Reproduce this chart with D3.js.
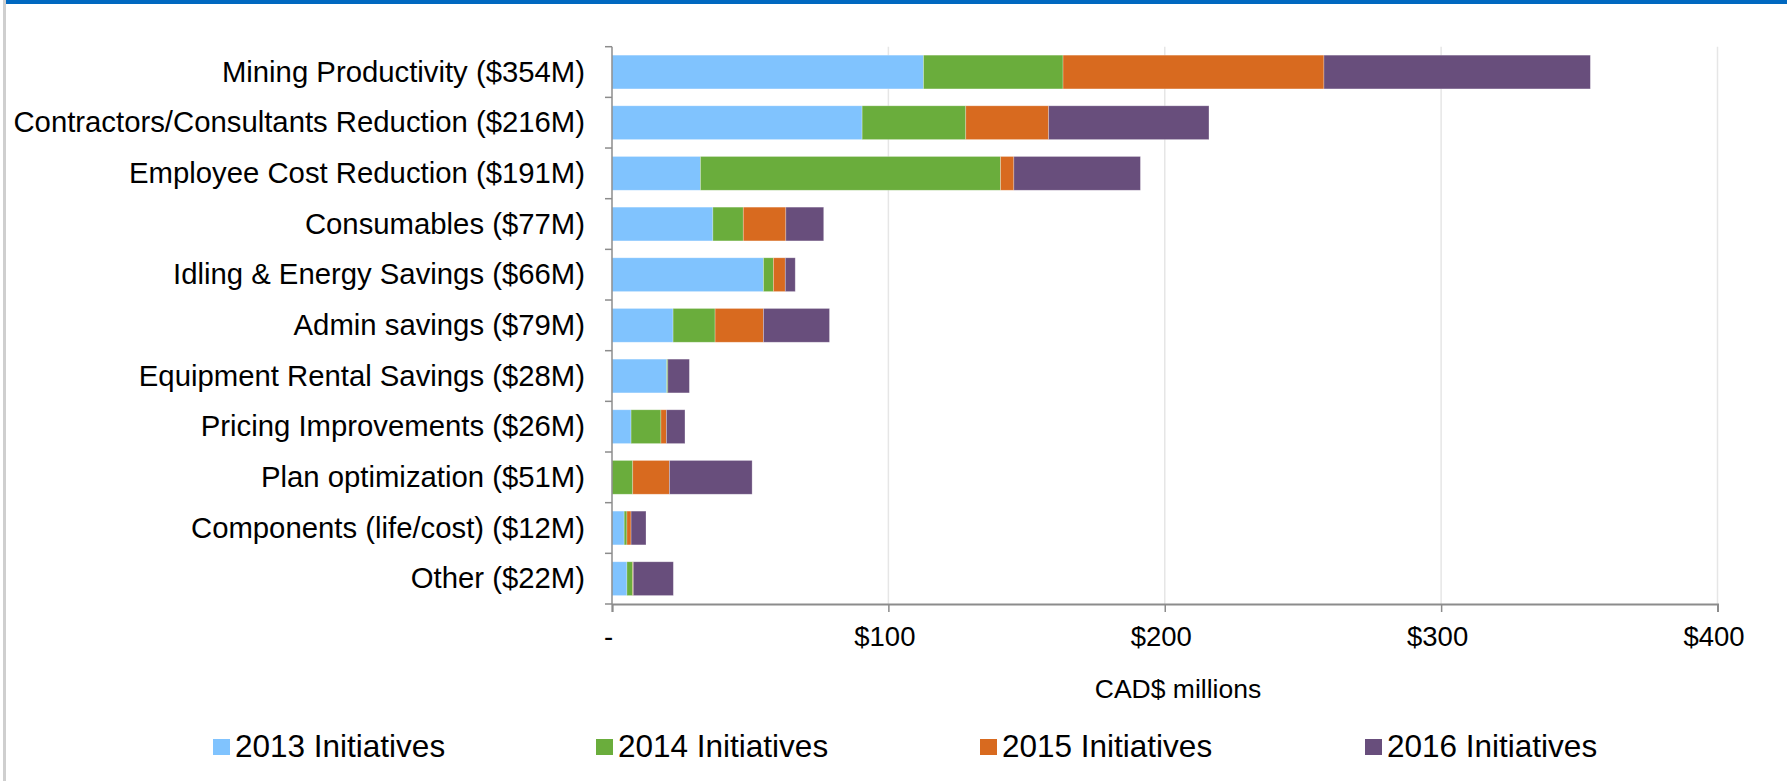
<!DOCTYPE html>
<html>
<head>
<meta charset="utf-8">
<script src="https://cdn.jsdelivr.net/npm/d3@7"></script>
<style>
  html, body { margin: 0; padding: 0; background: #ffffff; }
  svg { display: block; font-family: "Liberation Sans", Arial, Helvetica, sans-serif; }
</style>
</head>
<body>
<svg id="chart" width="1787" height="781"></svg>
<script>
// Savings initiatives by category (CAD$ millions), stacked by initiative year
const categories = [
  "Mining Productivity ($354M)",
  "Contractors/Consultants Reduction ($216M)",
  "Employee Cost Reduction ($191M)",
  "Consumables ($77M)",
  "Idling & Energy Savings ($66M)",
  "Admin savings ($79M)",
  "Equipment Rental Savings ($28M)",
  "Pricing Improvements ($26M)",
  "Plan optimization ($51M)",
  "Components (life/cost) ($12M)",
  "Other ($22M)"
];
const initiatives2013 = [112.7, 90.5, 32.0, 36.5, 54.8, 22.1, 19.8, 6.9, 0.0, 4.4, 5.4];
const initiatives2014 = [50.5, 37.5, 108.6, 11.0, 3.6, 15.2, 0.4, 10.8, 7.5, 1.0, 2.1];
const initiatives2015 = [94.4, 30.0, 4.8, 15.4, 4.3, 17.5, 0.0, 2.0, 13.3, 1.5, 0.2];
const initiatives2016 = [96.4, 58.0, 45.8, 13.7, 3.6, 23.9, 7.8, 6.7, 29.9, 5.4, 14.5];
const seriesNames = ["2013 Initiatives", "2014 Initiatives", "2015 Initiatives", "2016 Initiatives"];
const tickValues = [0, 100, 200, 300, 400];
const tickLabels = ["-", "$100", "$200", "$300", "$400"];
const axisTitle = "CAD$ millions";

const seriesColors = ["#80c3fe", "#6aad3c", "#d86a1f", "#684e7c"];
const seriesKeys = ["y2013", "y2014", "y2015", "y2016"];

const rows = categories.map((c, i) => ({
  category: c,
  y2013: initiatives2013[i],
  y2014: initiatives2014[i],
  y2015: initiatives2015[i],
  y2016: initiatives2016[i]
}));

const svg = d3.select("#chart");

// page frame: blue rule along the top, grey rule down the left side
svg.append("rect").attr("x", 6).attr("y", 0).attr("width", 1781).attr("height", 4).attr("fill", "#0068c0");
svg.append("rect").attr("x", 3).attr("y", 0).attr("width", 3).attr("height", 781).attr("fill", "#cfcfcf");

const plot = { left: 612, right: 1717.5, top: 46.7, bottom: 604 };

const x = d3.scaleLinear().domain([0, 400]).range([plot.left, plot.right]);
const y = d3.scaleBand().domain(categories).range([plot.top, plot.bottom])
  .paddingInner(1 / 3).paddingOuter(1 / 6);

// vertical gridlines
svg.append("g").selectAll("line")
  .data(tickValues.slice(1))
  .join("line")
  .attr("x1", d => x(d)).attr("x2", d => x(d))
  .attr("y1", plot.top).attr("y2", plot.bottom)
  .attr("stroke", "#e6e6e6").attr("stroke-width", 1.5);

// stacked bars
const stack = d3.stack().keys(seriesKeys);
const layers = stack(rows);

svg.append("g").selectAll("g")
  .data(layers)
  .join("g")
  .attr("fill", (d, i) => seriesColors[i])
  .selectAll("rect")
  .data(d => d.filter(s => s[1] - s[0] > 0))
  .join("rect")
  .attr("x", d => x(d[0]))
  .attr("width", d => x(d[1]) - x(d[0]))
  .attr("y", d => y(d.data.category))
  .attr("height", y.bandwidth())
  .attr("stroke", "#ffffff").attr("stroke-width", 0.75).attr("stroke-opacity", 0.35);

// x axis
const xAxis = d3.axisBottom(x)
  .tickValues(tickValues)
  .tickFormat((d, i) => tickLabels[i])
  .tickSizeOuter(0)
  .tickSize(8)
  .tickPadding(14);

const gx = svg.append("g")
  .attr("transform", `translate(0,${plot.bottom})`)
  .call(xAxis);
gx.select(".domain").attr("stroke", "#8c8c8c").attr("stroke-width", 2);
gx.selectAll(".tick line").attr("stroke", "#8c8c8c").attr("stroke-width", 1.5);
gx.selectAll(".tick text")
  .attr("font-size", "27.5px")
  .attr("font-family", "Liberation Sans, Arial, sans-serif")
  .attr("fill", "#000")
  .attr("dx", "-4")
  .attr("dy", "0.71em");

// y axis: category labels, with tick marks on the band boundaries
const yAxis = d3.axisLeft(y).tickSize(0).tickPadding(27);
const gy = svg.append("g")
  .attr("transform", `translate(${plot.left},0)`)
  .call(yAxis);
gy.select(".domain").remove();
gy.selectAll(".tick text")
  .attr("font-size", "29.3px")
  .attr("font-family", "Liberation Sans, Arial, sans-serif")
  .attr("fill", "#000")
  .attr("dy", "0.33em");

const boundaries = categories.map(c => y(c) - y.step() * y.paddingOuter()).concat([plot.bottom]);
svg.append("g").selectAll("line")
  .data(boundaries)
  .join("line")
  .attr("x1", plot.left - 7).attr("x2", plot.left)
  .attr("y1", d => d).attr("y2", d => d)
  .attr("stroke", "#8c8c8c").attr("stroke-width", 1.5);
svg.append("line")
  .attr("x1", plot.left).attr("x2", plot.left)
  .attr("y1", plot.top).attr("y2", plot.bottom)
  .attr("stroke", "#8c8c8c").attr("stroke-width", 1.5);

// axis title
svg.append("text")
  .attr("x", 1178).attr("y", 698)
  .attr("text-anchor", "middle")
  .attr("font-size", "26.5px")
  .attr("fill", "#000")
  .text(axisTitle);

// legend
const legendX = [213, 596, 980, 1365];
const legend = svg.append("g").selectAll("g")
  .data(seriesNames)
  .join("g")
  .attr("transform", (d, i) => `translate(${legendX[i]},739)`);
legend.append("rect")
  .attr("width", 17).attr("height", 16)
  .attr("fill", (d, i) => seriesColors[i]);
legend.append("text")
  .attr("x", 22).attr("y", 18)
  .attr("font-size", "31.5px")
  .attr("fill", "#000")
  .text(d => d);
</script>
</body>
</html>
